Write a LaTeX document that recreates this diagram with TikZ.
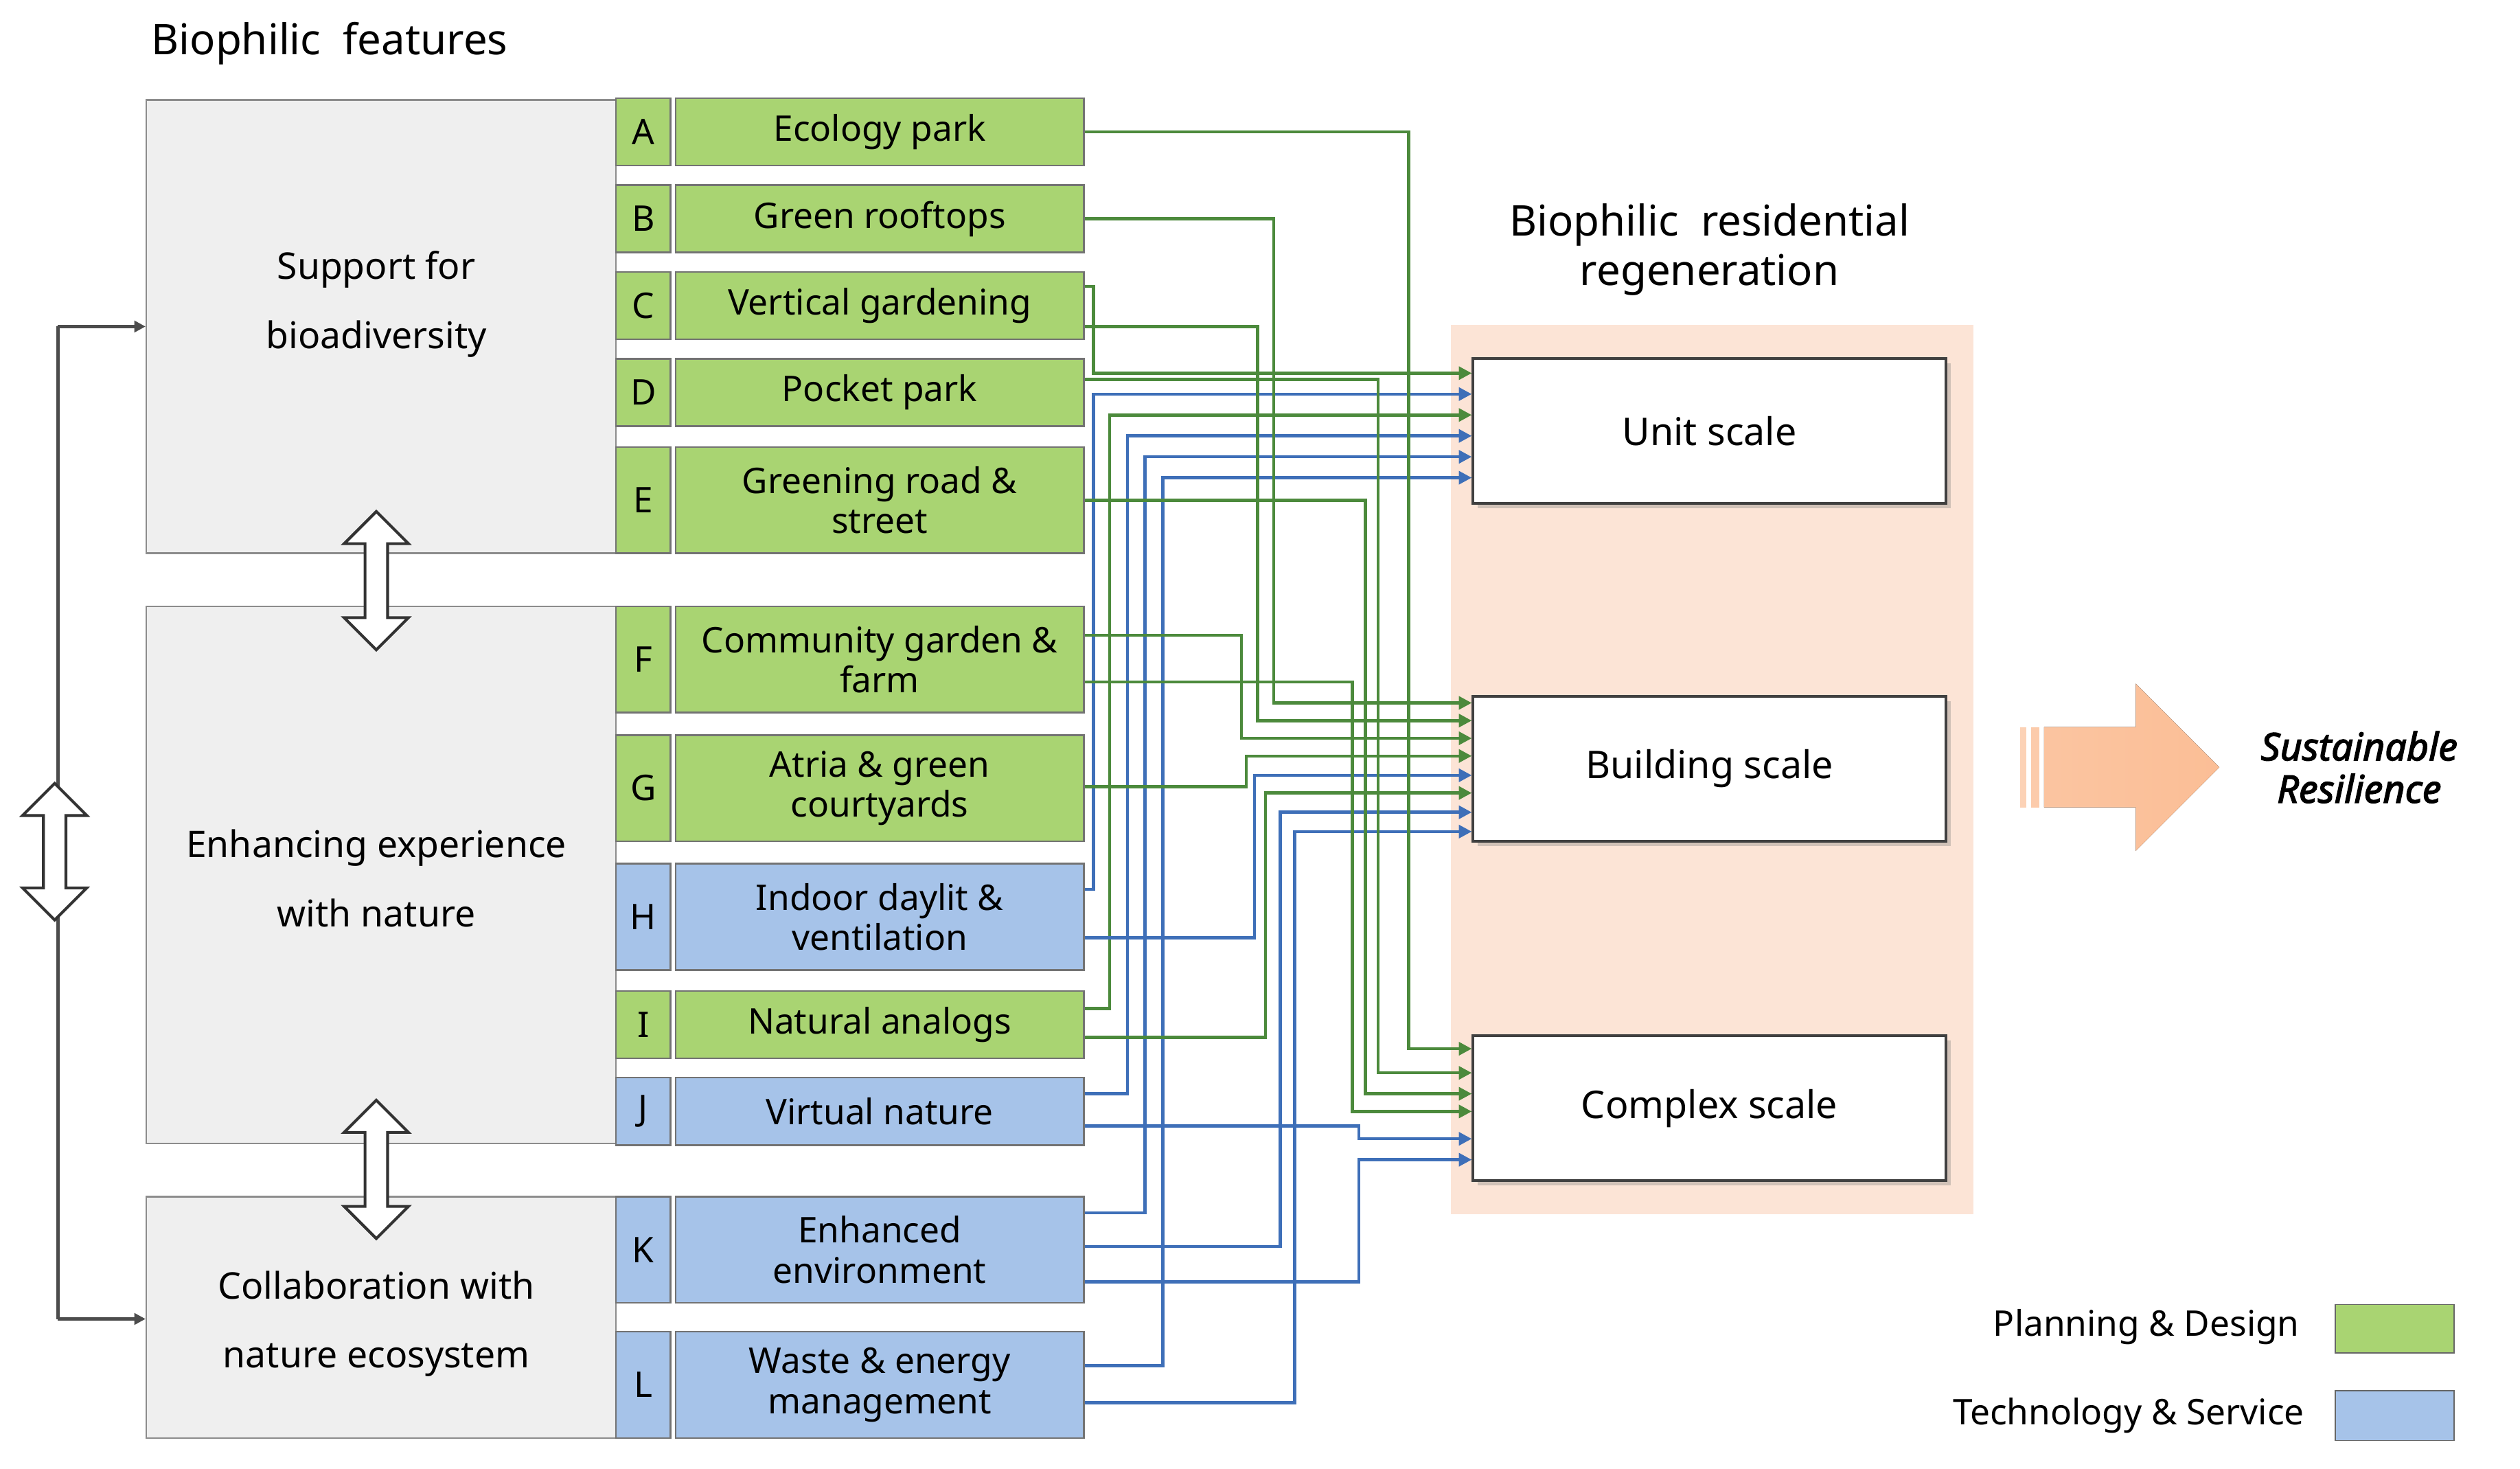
\documentclass[tikz,border=0pt]{standalone}
\usepackage{fontspec}
\setmainfont{Noto Sans}
\usetikzlibrary{arrows.meta,shadows}
\definecolor{gfill}{HTML}{A9D472}
\definecolor{bfill}{HTML}{A6C3E9}
\definecolor{gline}{HTML}{4C8A3C}
\definecolor{bline}{HTML}{3E6FB8}
\definecolor{grp}{HTML}{EFEFEF}
\definecolor{peach}{HTML}{FCE4D6}
\definecolor{orng}{HTML}{FBBE96}
\begin{document}
\begin{tikzpicture}[x=0.02cm,y=-0.02cm,
  grpbox/.style={draw=black!45,fill=grp,line width=0.6pt},
  letter/.style={draw=black!55,line width=0.6pt,minimum width=0.68cm,inner sep=0pt,font=\fontsize{12.5}{14}\selectfont},
  feat/.style={draw=black!55,line width=0.6pt,minimum width=5.08cm,inner sep=0pt,align=center,font=\fontsize{12.5}{14.2}\selectfont},
  tgt/.style={draw=black!75,fill=white,line width=1pt,minimum width=5.88cm,minimum height=1.8cm,font=\fontsize{13.5}{15}\selectfont,drop shadow={opacity=0.35,shadow xshift=0.6mm,shadow yshift=-0.6mm}},
  gc/.style={gline,line width=1.1pt,-{Triangle[length=1.6mm,width=1.6mm]}},
  bc/.style={bline,line width=1.1pt,-{Triangle[length=1.6mm,width=1.6mm]}},
  hollow/.style={draw=black!80,fill=white,line width=1pt},
  bracket/.style={black!70,line width=1.1pt,-{Triangle[length=1.4mm,width=1.4mm]}}]
\useasboundingbox (0,0) rectangle (1567,913);
% titles
\node[anchor=west,font=\fontsize{15}{17}\selectfont] (t1) at (88,27) {Biophilic\ \ features};
\node[align=center,font=\fontsize{15}{17.5}\selectfont] (t2) at (1063,155) {Biophilic\ \ residential\\regeneration};
% groups
\node[grpbox,minimum width=5.84cm,minimum height=5.64cm,inner sep=0pt] (g1) at (237,203) {};
\node[grpbox,minimum width=5.84cm,minimum height=6.68cm,inner sep=0pt] (g2) at (237,544) {};
\node[grpbox,minimum width=5.84cm,minimum height=3.0cm,inner sep=0pt] (g3) at (237,819) {};
\node[align=center,font=\fontsize{13}{24.5}\selectfont] (g1t) at (234,189) {Support for\\bioadiversity};
\node[align=center,font=\fontsize{13}{24.5}\selectfont] (g2t) at (234,546) {Enhancing experience\\with nature};
\node[align=center,font=\fontsize{13}{24.5}\selectfont] (g3t) at (234,823) {Collaboration with\\nature ecosystem};
% features
\newcommand\feature[5]{%
  \node[letter,fill=#5,minimum height=#3*0.02cm] (L#1) at (400,#2) {#1};
  \node[feat,fill=#5,minimum height=#3*0.02cm] (#1) at (547,#2) {#4};}
\feature{A}{82}{42}{Ecology park}{gfill}
\feature{B}{136}{42}{Green rooftops}{gfill}
\feature{C}{190}{42}{Vertical gardening}{gfill}
\feature{D}{244}{42}{Pocket park}{gfill}
\feature{E}{311}{66}{Greening road \&\\street}{gfill}
\feature{F}{410}{66}{Community garden \&\\farm}{gfill}
\feature{G}{490}{66}{Atria \& green\\courtyards}{gfill}
\feature{H}{570}{66}{Indoor daylit \&\\ventilation}{bfill}
\feature{I}{637}{42}{Natural analogs}{gfill}
\feature{J}{691}{42}{Virtual nature}{bfill}
\feature{K}{777}{66}{Enhanced\\environment}{bfill}
\feature{L}{861}{66}{Waste \& energy\\management}{bfill}
% target area
\fill[peach] (902,202) rectangle (1227,755);
\node[tgt] (U) at (1063,268) {Unit scale};
\node[tgt] (Bs) at (1063,478) {Building scale};
\node[tgt] (Cs) at (1063,689) {Complex scale};
% connectors
\newcommand\conn[6]{\draw[#1] (#2.east |- 0,#3) -- (#4,#3) -- (#4,#5) -- (#6.west |- 0,#5);}
% Unit
\conn{gc}{C}{178}{680}{232}{U}
\conn{bc}{H}{553}{680}{245}{U}
\conn{gc}{I}{627}{690}{258}{U}
\conn{bc}{J}{680}{701}{271}{U}
\conn{bc}{K}{754}{712}{284}{U}
\conn{bc}{L}{849}{723}{297}{U}
% Building
\conn{gc}{B}{136}{792}{437}{Bs}
\conn{gc}{C}{203}{782}{448}{Bs}
\conn{gc}{F}{395}{772}{459}{Bs}
\conn{gc}{G}{489}{775}{470}{Bs}
\conn{bc}{H}{583}{780}{482}{Bs}
\conn{gc}{I}{645}{787}{493}{Bs}
\conn{bc}{K}{775}{796}{505}{Bs}
\conn{bc}{L}{872}{805}{517}{Bs}
% Complex
\conn{gc}{A}{82}{876}{652}{Cs}
\conn{gc}{D}{236}{857}{667}{Cs}
\conn{gc}{E}{311}{849}{680}{Cs}
\conn{gc}{F}{424}{841}{691}{Cs}
\conn{bc}{J}{700}{845}{708}{Cs}
\conn{bc}{K}{797}{845}{721}{Cs}
% left bracket
\coordinate (bt) at (36,203);
\coordinate (bb) at (36,820);
\draw[black!70,line width=1.1pt] (bt) -- (bb);
\draw[bracket] (bt) -- (g1.west |- bt);
\draw[bracket] (bb) -- (g3.west |- bb);
% hollow double arrows
\newcommand\dblarrow[3]{% x, ytop, ybot
  \draw[hollow] (#1,#2) -- (#1+20,#2+20) -- (#1+7,#2+20) -- (#1+7,#3-20) -- (#1+20,#3-20) -- (#1,#3) -- (#1-20,#3-20) -- (#1-7,#3-20) -- (#1-7,#2+20) -- (#1-20,#2+20) -- cycle;}
\dblarrow{234}{318}{404}
\dblarrow{234}{684}{770}
\dblarrow{34}{487}{572}
% big arrow
\fill[orng!70] (1256,452) rectangle (1260,502);
\fill[orng!80] (1263,452) rectangle (1268,502);
\fill[left color=orng!90,right color=orng] (1271,452) -- (1328,452) -- (1328,425) -- (1380,477) -- (1328,529) -- (1328,502) -- (1271,502) -- cycle;
\node[align=center,font=\fontsize{13.5}{15}\selectfont\itshape\addfontfeature{FakeBold=2.5}] (SR) at (1467,477) {Sustainable\\Resilience};
% legend
\node[draw=black!60,fill=gfill,minimum width=1.48cm,minimum height=0.6cm,inner sep=0pt] (lg) at (1489,826) {};
\node[draw=black!60,fill=bfill,minimum width=1.48cm,minimum height=0.62cm,inner sep=0pt] (lb) at (1489,880) {};
\node[anchor=east,font=\fontsize{12.5}{14}\selectfont] at (1436,825) {Planning \& Design};
\node[anchor=east,font=\fontsize{12.5}{14}\selectfont] at (1439,880) {Technology \& Service};
\end{tikzpicture}
\end{document}
